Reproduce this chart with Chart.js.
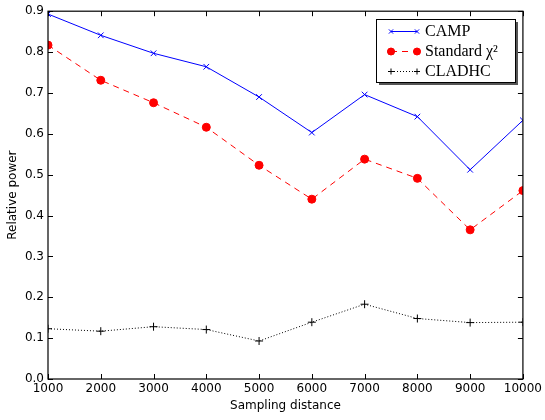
<!DOCTYPE html>
<html>
<head>
<meta charset="utf-8">
<script src="https://cdn.jsdelivr.net/npm/chart.js@4"></script>
<style>
  html, body { margin: 0; padding: 0; background: #fff; }
  #wrap { width: 545px; height: 420px; }
</style>
</head>
<body>
<div id="wrap"><canvas id="powerChart" width="545" height="420"></canvas></div>
<script>
// sampling distances on the x axis
const distances = [1000, 2000, 3000, 4000, 5000, 6000, 7000, 8000, 9000, 10000];
// relative power per method
const campPower = [0.893, 0.841, 0.797, 0.764, 0.690, 0.603, 0.696, 0.642, 0.512, 0.633];
const chiSquarePower = [0.817, 0.731, 0.676, 0.616, 0.523, 0.440, 0.538, 0.491, 0.365, 0.461];
const cladhcPower = [0.123, 0.117, 0.128, 0.121, 0.093, 0.139, 0.183, 0.148, 0.138, 0.139];
const xTicks = [1000, 2000, 3000, 4000, 5000, 6000, 7000, 8000, 9000, 10000];
const yTicks = [0, 0.1, 0.2, 0.3, 0.4, 0.5, 0.6, 0.7, 0.8, 0.9];

const toPoints = (ys) => ys.map((y, i) => ({ x: distances[i], y: y }));

// matplotlib-like frame with inward ticks on all four sides
const frameTicks = {
  id: 'frameTicks',
  afterDraw(chart) {
    const { ctx, chartArea: a, scales } = chart;
    ctx.save();
    ctx.strokeStyle = '#000';
    ctx.lineWidth = 1;
    ctx.beginPath();
    xTicks.forEach(v => {
      const px = Math.round(scales.x.getPixelForValue(v)) + 0.5;
      ctx.moveTo(px, a.bottom); ctx.lineTo(px, a.bottom - 5);
      ctx.moveTo(px, a.top); ctx.lineTo(px, a.top + 5);
    });
    yTicks.forEach(v => {
      const py = Math.round(scales.y.getPixelForValue(v)) + 0.5;
      ctx.moveTo(a.left, py); ctx.lineTo(a.left + 5, py);
      ctx.moveTo(a.right, py); ctx.lineTo(a.right - 5, py);
    });
    ctx.stroke();
    ctx.lineWidth = 1.2;
    ctx.strokeRect(a.left, a.top, a.right - a.left, a.bottom - a.top);
    ctx.restore();
  }
};

// legend box drawn inside the plot, upper right
const boxLegend = {
  id: 'boxLegend',
  afterDraw(chart) {
    const { ctx } = chart;
    const bx = 376, by = 19, bw = 139, bh = 63;
    ctx.save();
    ctx.fillStyle = '#555';
    ctx.fillRect(bx + 3, by + 3, bw, bh);
    ctx.fillStyle = '#fff';
    ctx.fillRect(bx, by, bw, bh);
    ctx.strokeStyle = '#000';
    ctx.lineWidth = 1;
    ctx.strokeRect(bx + 0.5, by + 0.5, bw, bh);

    const rows = [
      { y: 31, ds: chart.data.datasets[0] },
      { y: 51, ds: chart.data.datasets[1] },
      { y: 71, ds: chart.data.datasets[2] }
    ];
    const x0 = 391, x1 = 417;
    rows.forEach(r => {
      const ds = r.ds;
      const rad = ds.pointStyle === 'circle' ? 3.5 : 3;
      ctx.strokeStyle = ds.borderColor;
      ctx.lineWidth = 1;
      ctx.setLineDash(ds.borderDash || []);
      ctx.beginPath();
      ctx.moveTo(x0, r.y + 0.5); ctx.lineTo(x1, r.y + 0.5);
      ctx.stroke();
      ctx.setLineDash([]);
      [x0, x1].forEach(px => {
        Chart.helpers.drawPoint(ctx, {
          pointStyle: ds.pointStyle,
          radius: rad,
          borderWidth: 1
        }, px, r.y + 0.5);
        if (ds.pointStyle === 'circle') {
          ctx.fillStyle = ds.pointBackgroundColor;
          ctx.beginPath(); ctx.arc(px, r.y + 0.5, rad, 0, Math.PI * 2); ctx.fill();
        }
      });
      ctx.fillStyle = '#000';
      ctx.font = '16px "Liberation Serif", "DejaVu Serif", serif';
      ctx.textBaseline = 'middle';
      ctx.fillText(ds.label, 425, r.y + 1);
    });
    ctx.restore();
  }
};

const ctx = document.getElementById('powerChart').getContext('2d');
new Chart(ctx, {
  type: 'line',
  data: {
    datasets: [
      {
        label: 'CAMP',
        data: toPoints(campPower),
        borderColor: '#0000ff',
        backgroundColor: '#0000ff',
        pointBorderColor: '#0000ff',
        pointStyle: 'crossRot',
        pointRadius: 4,
        borderWidth: 1,
        pointBorderWidth: 1
      },
      {
        label: 'Standard χ²',
        data: toPoints(chiSquarePower),
        borderColor: '#ff0000',
        backgroundColor: '#ff0000',
        pointBackgroundColor: '#ff0000',
        pointBorderColor: '#ff0000',
        pointStyle: 'circle',
        pointRadius: 4,
        borderWidth: 1,
        borderDash: [6, 5]
      },
      {
        label: 'CLADHC',
        data: toPoints(cladhcPower),
        borderColor: '#000000',
        backgroundColor: '#000000',
        pointBorderColor: '#000000',
        pointStyle: 'cross',
        pointRadius: 4,
        borderWidth: 1,
        pointBorderWidth: 1,
        borderDash: [1, 2]
      }
    ]
  },
  options: {
    responsive: false,
    animation: false,
    layout: { padding: { top: 10, right: 19, left: 0, bottom: 7 } },
    plugins: { legend: { display: false }, tooltip: { enabled: false } },
    scales: {
      x: {
        type: 'linear',
        min: 1000,
        max: 10000,
        afterFit: (s) => { s.height = 34; },
        afterBuildTicks: (s) => { s.ticks = xTicks.map(v => ({ value: v })); },
        grid: { display: false, drawTicks: false },
        border: { display: false },
        ticks: {
          color: '#000',
          padding: 3,
          maxRotation: 0,
          autoSkip: false,
          font: { family: 'DejaVu Sans', size: 12 },
          callback: (v) => String(v)
        },
        title: {
          display: true,
          text: 'Sampling distance',
          color: '#000',
          padding: { top: 1, bottom: 0 },
          font: { family: 'DejaVu Sans', size: 12 }
        }
      },
      y: {
        min: 0,
        max: 0.9,
        afterFit: (s) => { s.width = 48; },
        afterBuildTicks: (s) => { s.ticks = yTicks.map(v => ({ value: v })); },
        grid: { display: false, drawTicks: false },
        border: { display: false },
        ticks: {
          color: '#000',
          padding: 4,
          font: { family: 'DejaVu Sans', size: 12 },
          callback: (v) => v.toFixed(1)
        },
        title: {
          display: true,
          text: 'Relative power',
          color: '#000',
          padding: { top: 6, bottom: 2 },
          font: { family: 'DejaVu Sans', size: 12 }
        }
      }
    }
  },
  plugins: [frameTicks, boxLegend]
});
</script>
</body>
</html>
